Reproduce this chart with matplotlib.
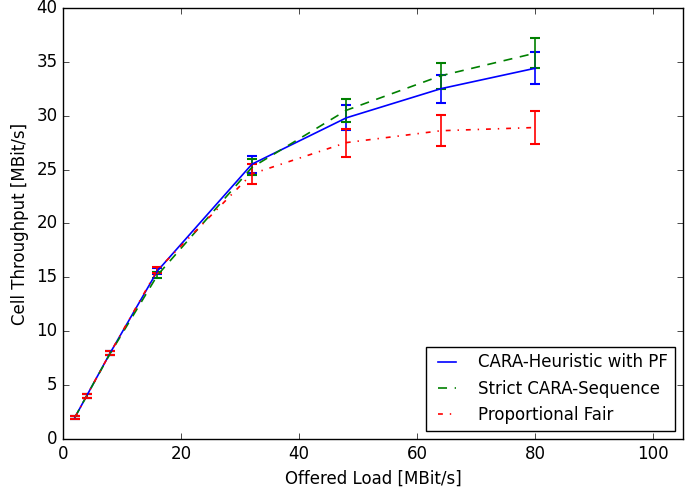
import numpy as np
import matplotlib
matplotlib.use('Agg')
import matplotlib.pyplot as plt
from matplotlib.lines import Line2D

load = [2, 4, 8, 16, 32, 48, 64, 80]

heur = [2.0, 4.0, 8.0, 15.6, 25.5, 29.8, 32.5, 34.4]
heur_err = [0.1, 0.15, 0.2, 0.3, 0.8, 1.15, 1.3, 1.5]

strict = [2.0, 4.0, 7.95, 15.2, 25.2, 30.5, 33.7, 35.8]
strict_err = [0.1, 0.15, 0.2, 0.3, 0.75, 1.05, 1.2, 1.4]

pf = [2.0, 4.0, 8.0, 15.7, 24.6, 27.5, 28.6, 28.9]
pf_err = [0.1, 0.15, 0.2, 0.3, 0.9, 1.3, 1.45, 1.5]

plt.style.use('classic')
plt.rcParams['font.family'] = 'DejaVu Sans'
plt.rcParams['font.size'] = 12
plt.rcParams['lines.scale_dashes'] = False

dash_g = (0, (6.5, 5.5))
dash_r = (0, (3.5, 5, 1, 5))

fig = plt.figure(figsize=(6.85, 4.9), dpi=100, facecolor='white')
ax = fig.add_axes([0.092, 0.104, 0.905, 0.880])

ax.errorbar(load, heur, yerr=heur_err, color='b', ls='-', lw=1.2, capsize=3.5,
            capthick=1.5)
ax.errorbar(load, strict, yerr=strict_err, color='g', ls=dash_g, lw=1.2,
            capsize=3.5, capthick=1.5)
ax.errorbar(load, pf, yerr=pf_err, color='r', ls=dash_r, lw=1.2, capsize=3.5,
            capthick=1.5)

handles = [Line2D([], [], color='b', ls='-', lw=1.2),
           Line2D([], [], color='g', ls=dash_g, lw=1.2),
           Line2D([], [], color='r', ls=dash_r, lw=1.2)]
labels = ['CARA-Heuristic with PF', 'Strict CARA-Sequence', 'Proportional Fair']

ax.set_xlim(0, 105)
ax.set_ylim(0, 40)
ax.set_xticks([0, 20, 40, 60, 80, 100])
ax.set_yticks(range(0, 41, 5))
ax.set_xlabel('Offered Load [MBit/s]')
ax.set_ylabel('Cell Throughput [MBit/s]')
ax.legend(handles, labels, loc='lower right', fontsize=12,
          handlelength=1.7, handletextpad=1.0)

plt.savefig('out.png', dpi=100, facecolor='white')
